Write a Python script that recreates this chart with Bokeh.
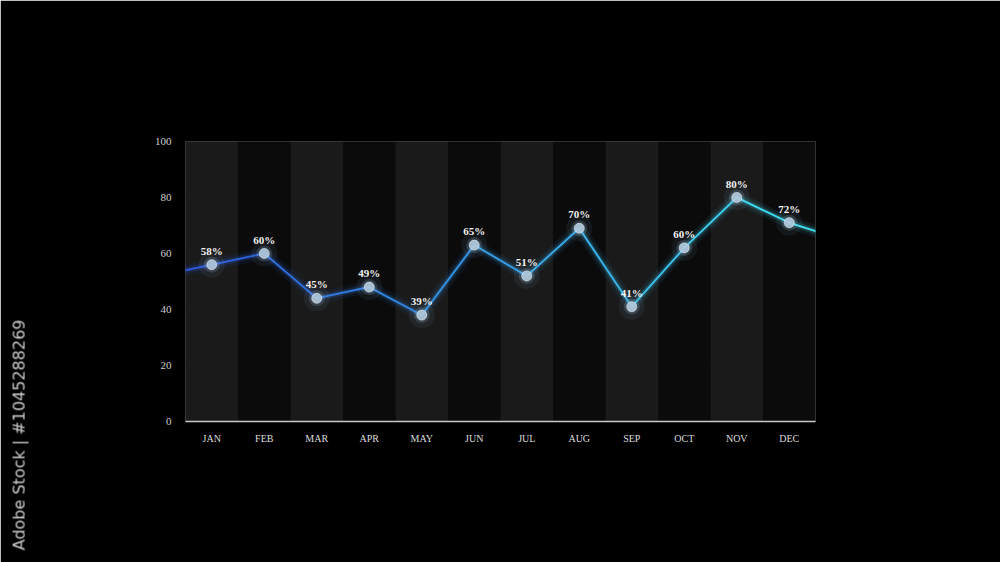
from bokeh.plotting import figure
from bokeh.models import ColumnDataSource, FixedTicker, Range1d, Div
from bokeh.embed import file_html
from bokeh.resources import INLINE
from bokeh.core.properties import value

months = ["JAN", "FEB", "MAR", "APR", "MAY", "JUN", "JUL", "AUG", "SEP", "OCT", "NOV", "DEC"]
values = [56, 60, 44, 48, 38, 63, 52, 69, 41, 62, 80, 71]
labels = ["58%", "60%", "45%", "49%", "39%", "65%", "51%", "70%", "41%", "60%", "80%", "72%"]
start_value = 54   # line enters at the left edge
end_value = 68     # line leaves at the right edge
y_ticks = [0, 20, 40, 60, 80, 100]
stock_id = "Adobe Stock | #1045288269"

W, H = 1000, 562
p = figure(width=W, height=H, output_backend="svg", toolbar_location=None,
           x_range=Range1d(-0.5, 11.5), y_range=Range1d(0, 100),
           min_border_left=185, min_border_right=185, min_border_top=141, min_border_bottom=141)
p.background_fill_color = "black"
p.border_fill_color = "black"
p.outline_line_color = None

# alternating bands
idx = list(range(len(months)))
band_colors = ["#1a1a1a" if i % 2 == 0 else "#0b0b0c" for i in idx]
p.vbar(x=idx, top=100, bottom=0, width=1.0, color=band_colors, line_color=None)

# grid
p.xgrid.grid_line_color = None
p.ygrid.grid_line_color = "#3a3a3a"
p.ygrid.grid_line_dash = "2 2"
p.ygrid.grid_line_width = 1

# axes
p.yaxis.ticker = FixedTicker(ticks=y_ticks)
p.yaxis.axis_line_color = None
p.yaxis.major_tick_line_color = None
p.yaxis.minor_tick_line_color = None
p.yaxis.major_label_text_color = "#cfcfcf"
p.yaxis.major_label_text_font = "Liberation Serif"
p.yaxis.major_label_text_font_size = "11px"
p.yaxis.major_label_standoff = 8

p.xaxis.ticker = FixedTicker(ticks=idx)
p.xaxis.major_label_overrides = {i: m for i, m in enumerate(months)}
p.xaxis.axis_line_color = "#c8c8c8"
p.xaxis.axis_line_width = 1.5
p.xaxis.major_tick_line_color = None
p.xaxis.minor_tick_line_color = None
p.xaxis.major_label_text_color = "#dcdcdc"
p.xaxis.major_label_text_font = "Liberation Serif"
p.xaxis.major_label_text_font_size = "10px"
p.xaxis.major_label_standoff = 5

# line with colour gradient blue -> cyan
xs = [-0.5] + idx + [11.5]
ys = [start_value] + values + [end_value]
c0 = (42, 84, 214)
c1 = (64, 226, 238)
def col(t):
    t = max(0.0, min(1.0, t))
    return "#%02x%02x%02x" % tuple(int(round(a + (b - a) * t)) for a, b in zip(c0, c1))
seg = dict(x0=xs[:-1], y0=ys[:-1], x1=xs[1:], y1=ys[1:],
           c=[col(((xs[i] + xs[i + 1]) / 2 + 0.5) / 12.0) for i in range(len(xs) - 1)])
src = ColumnDataSource(seg)
p.segment("x0", "y0", "x1", "y1", source=src, line_color="c", line_width=12, line_alpha=0.08, line_cap="round")
p.segment("x0", "y0", "x1", "y1", source=src, line_color="c", line_width=6, line_alpha=0.18, line_cap="round")
p.segment("x0", "y0", "x1", "y1", source=src, line_color="c", line_width=2, line_alpha=1.0, line_cap="round")

# points with glow
pts = ColumnDataSource(dict(x=idx, y=values, lab=labels))
p.scatter("x", "y", source=pts, size=26, fill_color="#9fc8e8", fill_alpha=0.07, line_color=None)
p.scatter("x", "y", source=pts, size=16, fill_color="#b8d4ea", fill_alpha=0.16, line_color=None)
p.scatter("x", "y", source=pts, size=10, fill_color="#b3c9da", fill_alpha=0.9,
          line_color="#e6f0f8", line_width=1, line_alpha=0.6)

p.text("x", "y", text="lab", source=pts, text_color="#f2f2f2", text_font=value("Liberation Serif"),
       text_font_size="11px", text_font_style="bold", text_align="center", text_baseline="bottom",
       y_offset=-8)

# vertical stock id at the left edge of the page
d = Div(width=1, height=1,
        text=('<div style="position:fixed;left:20px;top:435px;'
              'transform:translate(-50%,-50%) rotate(-90deg);white-space:nowrap;'
              "color:#cccccc;font-family:'DejaVu Sans';font-size:16px;\">" + stock_id + "</div>"))

html = file_html([p, d], INLINE)
html = html.replace("<body>", '<body style="background:#000000;overflow:hidden;">', 1)
open("out.html", "w").write(html)
